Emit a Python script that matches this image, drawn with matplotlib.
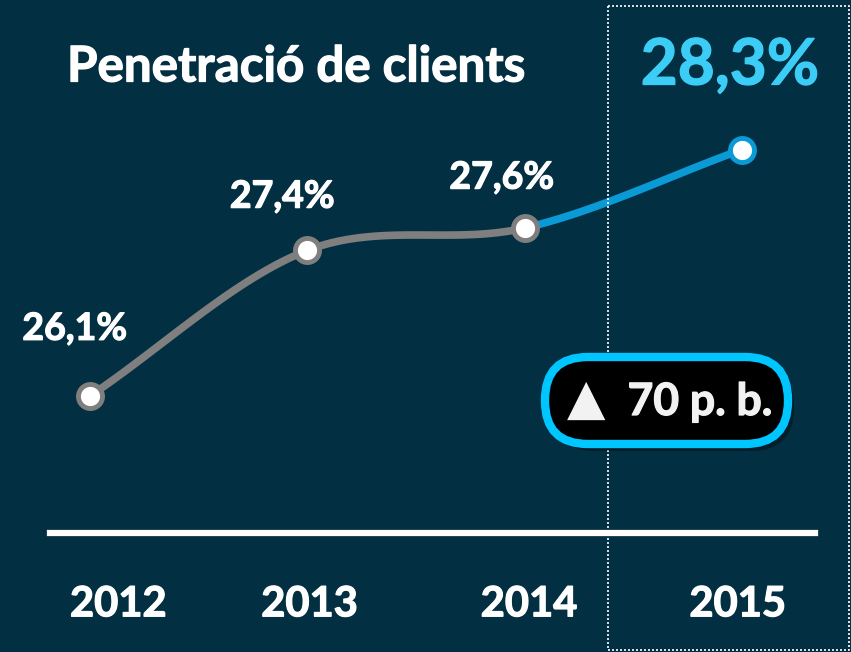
import numpy as np
import matplotlib
matplotlib.use("Agg")
import matplotlib.pyplot as plt
import matplotlib.patheffects as pe
from matplotlib.patches import FancyBboxPatch, Rectangle

plt.rcParams['font.family'] = ['Lato', 'DejaVu Sans']

# data
years = ['2012', '2013', '2014', '2015']
values = [26.1, 27.4, 27.6, 28.3]
value_labels = ['26,1%', '27,4%', '27,6%', '28,3%']
title = 'Penetració de clients'
badge_text = '70 p. b.'

BG = '#032f42'
GREY = '#7f7f7f'
BLUE = '#0a9ad6'
CYAN = '#3ccdf7'


def heavy(c):
    return [pe.withStroke(linewidth=0.9, foreground=c)]


fig = plt.figure(figsize=(8.51, 6.52), dpi=100, facecolor=BG)

# data axes covering the whole figure
ax = fig.add_axes([0, 0, 1, 1])
ax.set_facecolor(BG)
ax.set_xlim(-0.414, 3.502)
ax.set_ylim(23.814, 29.636)
ax.axis('off')

# smooth curve (cardinal spline through the points)
x = np.arange(len(values))
y = np.array(values)
tang = np.gradient(y)


def segment(i, n=60):
    t = np.linspace(0, 1, n)
    h00 = 2 * t**3 - 3 * t**2 + 1
    h10 = t**3 - 2 * t**2 + t
    h01 = -2 * t**3 + 3 * t**2
    h11 = t**3 - t**2
    ys = h00 * y[i] + h10 * tang[i] + h01 * y[i + 1] + h11 * tang[i + 1]
    return x[i] + t, ys


gx, gy = [], []
for i in range(2):
    sx, sy = segment(i)
    gx.extend(sx); gy.extend(sy)
bx, by = segment(2)

ax.plot(gx, gy, color=GREY, lw=5.5, solid_capstyle='round', zorder=2)
ax.plot(bx, by, color=BLUE, lw=5.5, solid_capstyle='round', zorder=2)
ax.scatter(x[:3], y[:3], s=300, facecolor='white', edgecolor=GREY, linewidth=3.5, zorder=3)
ax.scatter(x[3:], y[3:], s=300, facecolor='white', edgecolor=BLUE, linewidth=3.5, zorder=3)

# value labels
lab_dx = [-0.07, -0.115, -0.105]
lab_dy = [0.6, 0.48, 0.45]
for i in range(3):
    ax.text(x[i] + lab_dx[i], y[i] + lab_dy[i], value_labels[i], color='white',
            fontsize=27, fontweight='bold', ha='center', va='center',
            path_effects=heavy('white'))

# baseline
ax.axhline(24.877, xmin=50 / 851, xmax=815 / 851, color='white', lw=4.5)

# year labels
year_dx = [0.13, 0.01, 0.02, -0.02]
for i, yr in enumerate(years):
    ax.text(x[i] + year_dx[i], 24.24, yr, color='white', fontsize=30,
            fontweight='bold', ha='center', va='center', path_effects=heavy('white'))

# overlay in pixel units for decorations
ov = fig.add_axes([0, 0, 1, 1])
ov.set_xlim(0, 851)
ov.set_ylim(652, 0)
ov.axis('off')
ov.patch.set_alpha(0)

ov.add_patch(Rectangle((608, 6), 241, 644, fill=False, edgecolor='white',
                       lw=1.2, linestyle=(0, (1.2, 1.2))))

fig.text(67 / 851, 1 - 67 / 652, title, color='white', fontsize=35.5,
         fontweight='bold', ha='left', va='center', path_effects=heavy('white'))
fig.text(730 / 851, 1 - 66 / 652, value_labels[3], color=CYAN, fontsize=46,
         fontweight='bold', ha='center', va='center', path_effects=heavy(CYAN))

# badge with shadow
ov.add_patch(FancyBboxPatch((551, 364), 243, 87, boxstyle='round,pad=0,rounding_size=43',
                            facecolor='black', edgecolor='none', alpha=0.35, zorder=4))
ov.add_patch(FancyBboxPatch((545, 357), 243, 87, boxstyle='round,pad=0,rounding_size=43',
                            facecolor='black', edgecolor='#00c6ff', lw=6, zorder=5))
ov.text(586, 400, '▲', color='#f2f2f2', fontsize=36, ha='center', va='center',
        family='DejaVu Sans', zorder=6)
ov.text(700, 402, badge_text, color='#f2f2f2', fontsize=32, fontweight='bold',
        ha='center', va='center', zorder=6, path_effects=heavy('#f2f2f2'))

fig.savefig('out.png', dpi=100, facecolor=BG)
